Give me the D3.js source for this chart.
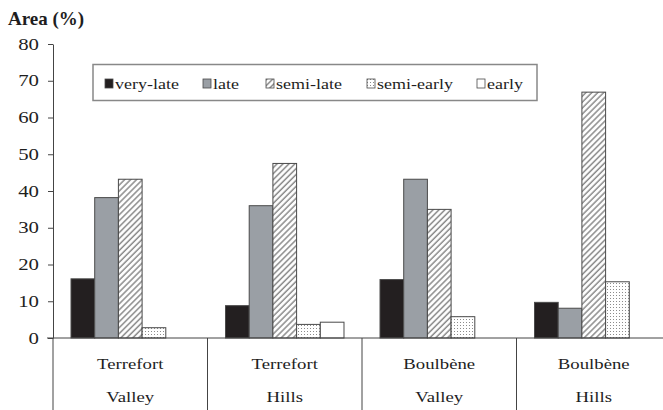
<!DOCTYPE html>
<html>
<head>
<meta charset="utf-8">
<script src="https://cdn.jsdelivr.net/npm/d3@7"></script>
<style>
  body { margin: 0; background: #fff; }
  svg { display: block; }
</style>
</head>
<body>
<div id="chart"></div>
<script>
// ------------------------------------------------ DATA ------------------------------------------------ //
const soils = ["Terrefort", "Terrefort", "Boulbène", "Boulbène"];
const sites = ["Valley", "Hills", "Valley", "Hills"];
const series = ["very-late", "late", "semi-late", "semi-early", "early"];
const veryLate  = [16.1, 8.8, 15.9, 9.7];
const late      = [38.2, 36.0, 43.2, 8.1];
const semiLate  = [43.2, 47.5, 35.0, 66.9];
const semiEarly = [2.8, 3.7, 5.8, 15.3];
const early     = [0, 4.3, 0, 0];
const yTicks = [0, 10, 20, 30, 40, 50, 60, 70, 80];

const values = [veryLate, late, semiLate, semiEarly, early];

const width = 663, height = 410;
const x0 = 53, x1 = 671, yTop = 44, yBase = 338;
const fontName = "Liberation Serif";
const ink = "#1e1e1e";

const svg = d3.select("#chart")
  .append("svg")
  .attr("width", width)
  .attr("height", height)
  .attr("font-family", fontName);

// helper: serif text, optionally stretched horizontally like the scanned original
function addText(parent, str, tx, ty, size, sx, anchor) {
  return parent.append("text")
    .attr("transform", "translate(" + tx + "," + ty + ") scale(" + sx + ",1)")
    .attr("text-anchor", anchor)
    .attr("dominant-baseline", "central")
    .attr("font-family", fontName)
    .attr("font-size", size)
    .style("font-family", "'Liberation Serif', serif")
    .attr("fill", ink)
    .text(str);
}

// patterns
const defs = svg.append("defs");
const hatch = defs.append("pattern")
  .attr("id", "hatch")
  .attr("patternUnits", "userSpaceOnUse")
  .attr("width", 4.2).attr("height", 4.2)
  .attr("patternTransform", "rotate(45)");
hatch.append("rect").attr("width", 4.2).attr("height", 4.2).attr("fill", "#fff");
hatch.append("line")
  .attr("x1", 1).attr("y1", 0).attr("x2", 1).attr("y2", 4.2)
  .attr("stroke", "#8a8a8a").attr("stroke-width", 1.5);

const dots = defs.append("pattern")
  .attr("id", "dots")
  .attr("patternUnits", "userSpaceOnUse")
  .attr("width", 3).attr("height", 3);
dots.append("rect").attr("width", 3).attr("height", 3).attr("fill", "#fff");
dots.append("rect").attr("x", 1).attr("y", 1).attr("width", 1).attr("height", 1).attr("fill", "#8c8c8c");

const fills = ["#231f20", "#9a9fa5", "url(#hatch)", "url(#dots)", "#ffffff"];

// scales
const x = d3.scaleBand().domain(d3.range(soils.length)).range([x0, x1]).padding(0);
const xs = d3.scaleBand().domain(series).range([0, x.bandwidth()]).paddingInner(0).paddingOuter(0.76);
const y = d3.scaleLinear().domain([0, 80]).range([yBase, yTop]);

// title
addText(svg, "Area (%)", 8, 18, 19, 1, "start").attr("font-weight", "bold");

// y axis (line + ticks from d3, labels drawn with the helper)
const yAxis = svg.append("g")
  .attr("transform", "translate(" + x0 + ",0)")
  .call(d3.axisLeft(y).tickValues(yTicks).tickSize(5).tickSizeOuter(0).tickFormat(""));
yAxis.select(".domain").attr("stroke", "#444");
yAxis.selectAll(".tick line").attr("stroke", "#444");
yAxis.selectAll(".tick text").remove();

const tickLabels = svg.append("g");
yTicks.forEach(function (t) {
  addText(tickLabels, d3.format("d")(t), 39, y(t), 16, 1.3, "end");
});

// bars
const bars = [];
values.forEach(function (vals, si) {
  vals.forEach(function (v, gi) {
    if (v > 0) bars.push({ g: gi, s: series[si], si: si, v: v });
  });
});

svg.append("g").selectAll("rect")
  .data(bars)
  .enter()
  .append("rect")
  .attr("x", d => x(d.g) + xs(d.s))
  .attr("y", d => y(d.v))
  .attr("width", xs.bandwidth())
  .attr("height", d => yBase - y(d.v))
  .attr("fill", d => fills[d.si])
  .attr("stroke", "#4a4a4a")
  .attr("stroke-width", 1);

// x axis line and separators
svg.append("line")
  .attr("x1", x0 - 6).attr("x2", width)
  .attr("y1", yBase).attr("y2", yBase)
  .attr("stroke", "#444").attr("stroke-width", 1);

svg.append("g").selectAll("line")
  .data(d3.range(soils.length))
  .enter()
  .append("line")
  .attr("x1", d => x(d)).attr("x2", d => x(d))
  .attr("y1", yBase).attr("y2", height)
  .attr("stroke", "#444").attr("stroke-width", 1);

// category labels
const labels = svg.append("g");
soils.forEach(function (s, i) {
  const cx = x(i) + x.bandwidth() / 2;
  addText(labels, s, cx, 364, 15, 1.25, "middle");
  addText(labels, sites[i], cx, 397, 15, 1.25, "middle");
});

// legend
const legend = svg.append("g");
legend.append("rect")
  .attr("x", 93).attr("y", 64.5)
  .attr("width", 444).attr("height", 36)
  .attr("fill", "#fff").attr("stroke", "#888").attr("stroke-width", 1.5);

const legendX = [105, 203, 266, 367, 477];
series.forEach(function (s, i) {
  legend.append("rect")
    .attr("x", legendX[i]).attr("y", 79)
    .attr("width", 8).attr("height", 9)
    .attr("fill", fills[i])
    .attr("stroke", "#4a4a4a").attr("stroke-width", 0.8);
  addText(legend, s, legendX[i] + 10, 84, 15, 1.2, "start");
});
</script>
</body>
</html>
